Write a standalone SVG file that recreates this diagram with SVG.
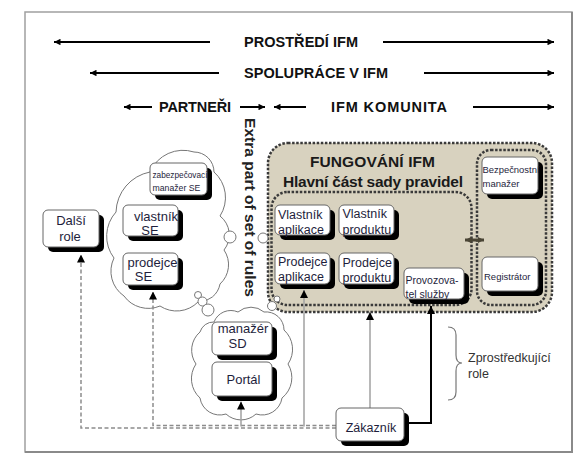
<svg xmlns="http://www.w3.org/2000/svg" width="586" height="461" viewBox="0 0 586 461">
<defs>
<marker id="ah" viewBox="0 0 10 10" refX="10" refY="5" markerWidth="8" markerHeight="8" markerUnits="userSpaceOnUse" orient="auto-start-reverse"><path d="M0,0 L10,5 L0,10 z" fill="#000"/></marker>
<marker id="th" viewBox="0 0 10 10" refX="10" refY="5" markerWidth="7" markerHeight="6.5" markerUnits="userSpaceOnUse" orient="auto-start-reverse"><path d="M0,0 L10,5 L0,10 z" fill="#000"/></marker>
<marker id="dh" viewBox="0 0 10 10" refX="10" refY="5" markerWidth="6.5" markerHeight="10" markerUnits="userSpaceOnUse" orient="auto-start-reverse"><path d="M0,0 L10,5 L0,10 z" fill="#4a4535"/></marker>
</defs>
<style>
text{font-family:"Liberation Sans",Arial,sans-serif}
.title{font-weight:bold;font-size:14.5px;fill:#111}
.sub{font-weight:bold;font-size:15.5px;fill:#1a1a1a}
.bx{fill:#fff;stroke:#666;stroke-width:1}
.sh{fill:#000}
.lbl{font-size:12.5px;fill:#1e1e3c}
.lb2{font-size:13px;fill:#1e1e3c}
.sm{font-size:9.5px;fill:#1e1e3c}
.cloud{fill:#fff;stroke:#777;stroke-width:1}
.dot{fill:none;stroke:#3a3a3a;stroke-width:2.5;stroke-dasharray:2.5 1.6}
.tan{fill:#d8d2bf}
.dash{fill:none;stroke:#8c8c8c;stroke-width:1.5;stroke-dasharray:4 2.5}
.gray{fill:none;stroke:#a0a0a0;stroke-width:1.5}
.blk{fill:none;stroke:#000;stroke-width:2}
.tarrow{stroke:#000;stroke-width:2;fill:none}
</style>

<rect x="25" y="12" width="547" height="440" fill="#fff" stroke="#a0a0a0" stroke-width="1.5"/>
<path d="M572,12 V452 H25" fill="none" stroke="#8a8a8a" stroke-width="2"/>

<g id="scope-arrows">
<line class="tarrow" x1="210" y1="42" x2="54" y2="42" marker-end="url(#th)"/>
<line class="tarrow" x1="383" y1="42" x2="554" y2="42" marker-end="url(#th)"/>
<line class="tarrow" x1="219" y1="73" x2="90" y2="73" marker-end="url(#th)"/>
<line class="tarrow" x1="424" y1="73" x2="554" y2="73" marker-end="url(#th)"/>
<line class="tarrow" x1="152" y1="107" x2="124" y2="107" marker-end="url(#th)"/>
<line class="tarrow" x1="240" y1="107" x2="265" y2="107" marker-end="url(#th)"/>
<line class="tarrow" x1="306" y1="107" x2="274" y2="107" marker-end="url(#th)"/>
<line class="tarrow" x1="473" y1="107" x2="554" y2="107" marker-end="url(#th)"/>
</g>
<g id="scope-labels">
<text class="title" x="301" y="47" text-anchor="middle" textLength="114">PROSTŘEDÍ IFM</text>
<text class="title" x="316" y="77.5" text-anchor="middle" textLength="144">SPOLUPRÁCE V IFM</text>
<text class="title" x="195" y="112" text-anchor="middle" textLength="72">PARTNEŘI</text>
<text class="title" x="389" y="112" text-anchor="middle" textLength="116">IFM KOMUNITA</text>
</g>

<g id="fungovani-ifm">
<rect x="268" y="143" width="284" height="169" rx="20" class="tan"/>
<rect x="268" y="143" width="284" height="169" rx="20" class="dot"/>
<text class="sub" x="372.5" y="167.3" text-anchor="middle" textLength="125">FUNGOVÁNÍ IFM</text>
<text class="sub" x="373" y="187.3" text-anchor="middle" textLength="180">Hlavní část sady pravidel</text>
</g>
<g id="hlavni-cast">
<rect x="271.5" y="192" width="200" height="113" rx="16" class="dot"/>
</g>
<g id="bezpecnost-group">
<rect x="477" y="150" width="69" height="155" rx="14" class="dot"/>
</g>

<g id="cloud-se">
<path class="cloud" d="M150,172 A36,36 0 0 1 194,152 A20,20 0 0 1 214,172 A34,34 0 0 1 220,216 A24,24 0 0 1 224,250 A26,26 0 0 1 220,284 A22,22 0 0 1 198,302 A30,30 0 0 1 160,306 A30,30 0 0 1 124,296 A30,30 0 0 1 114,258 A36,36 0 0 1 116,212 A42,42 0 0 1 150,172 Z"/>
</g>
<g id="cloud-sd">
<path class="cloud" d="M214,322 A18,18 0 0 1 238,312 A20,20 0 0 1 264,312 A18,18 0 0 1 284,330 A26,26 0 0 1 288,364 A26,26 0 0 1 282,398 A20,20 0 0 1 256,414 A22,22 0 0 1 226,414 A20,20 0 0 1 200,398 A26,26 0 0 1 196,364 A24,24 0 0 1 200,332 A14,14 0 0 1 214,322 Z"/>
</g>
<g id="bubbles">
<circle class="cloud" cx="198" cy="295" r="3.5"/>
<circle class="cloud" cx="202.5" cy="301.5" r="4.5"/>
<circle class="cloud" cx="208" cy="310" r="6"/>
<circle class="cloud" cx="230" cy="237" r="6"/>
<circle class="cloud" cx="263" cy="238" r="5"/>
<circle class="cloud" cx="272" cy="306" r="4.5"/>
<circle class="cloud" cx="277" cy="299" r="3"/>
</g>

<g id="connectors">
<path class="dash" d="M336,428 H81 V254.5" marker-end="url(#ah)"/>
<path class="dash" d="M336,425.5 H153 V291.5" marker-end="url(#ah)"/>
<path class="gray" d="M241,426.5 V401.5" marker-end="url(#ah)"/>
<path class="gray" d="M304,426.5 V290" marker-end="url(#ah)"/>
<path class="gray" d="M370,408 V312" marker-end="url(#ah)"/>
<path class="blk" d="M404,423 H431 V306" marker-end="url(#ah)"/>
<line x1="465" y1="240" x2="484" y2="240" stroke="#4a4535" stroke-width="3" marker-start="url(#dh)" marker-end="url(#dh)"/>
<path d="M448,327 Q456,327 456,335 V355 Q456,363 462,363 Q456,363 456,371 V392 Q456,400 448,400" fill="none" stroke="#777" stroke-width="1.2"/>
</g>

<g id="dalsi-role">
<rect class="sh" x="48" y="215" width="56" height="37" rx="5"/>
<rect class="bx" x="43" y="210" width="56" height="37" rx="5"/>
<text class="lb2" x="71" y="224.5" text-anchor="middle">Další</text>
<text class="lb2" x="70" y="241" text-anchor="middle">role</text>
</g>
<g id="zabezpecovaci-manazer-se">
<rect class="sh" x="155" y="168" width="57" height="32" rx="5"/>
<rect class="bx" x="150" y="163" width="57" height="32" rx="5"/>
<text style="font-size:8.7px;fill:#1e1e3c" x="152.5" y="178" textLength="55" lengthAdjust="spacingAndGlyphs">zabezpečovací</text>
<text style="font-size:8.7px;fill:#1e1e3c" x="152.5" y="191">manažer SE</text>
</g>
<g id="vlastnik-se">
<rect class="sh" x="128" y="210" width="55" height="31" rx="5"/>
<rect class="bx" x="123" y="205" width="55" height="31" rx="5"/>
<text class="lb2" x="156" y="221" text-anchor="middle">vlastník</text>
<text class="lb2" x="150" y="235" text-anchor="middle">SE</text>
</g>
<g id="prodejce-se">
<rect class="sh" x="128" y="258" width="55" height="32" rx="5"/>
<rect class="bx" x="123" y="253" width="55" height="32" rx="5"/>
<text class="lb2" x="152.5" y="267" text-anchor="middle">prodejce</text>
<text class="lb2" x="143.5" y="281" text-anchor="middle">SE</text>
</g>
<g id="manazer-sd">
<rect class="sh" x="217" y="327" width="60" height="33" rx="5"/>
<rect class="bx" x="212" y="322" width="60" height="33" rx="5"/>
<text class="lb2" x="243" y="333" text-anchor="middle">manažér</text>
<text class="lb2" x="237.5" y="348" text-anchor="middle">SD</text>
</g>
<g id="portal">
<rect class="sh" x="217" y="367" width="60" height="34" rx="5"/>
<rect class="bx" x="212" y="362" width="60" height="34" rx="5"/>
<text class="lb2" x="243.5" y="384" text-anchor="middle">Portál</text>
</g>
<g id="vlastnik-aplikace">
<rect class="sh" x="280" y="210" width="55" height="30" rx="5"/>
<rect class="bx" x="275" y="205" width="55" height="30" rx="5"/>
<text class="lbl" x="278" y="219">Vlastník</text>
<text class="lbl" x="278" y="234">aplikace</text>
</g>
<g id="vlastnik-produktu">
<rect class="sh" x="344" y="210" width="55" height="30" rx="5"/>
<rect class="bx" x="339" y="205" width="55" height="30" rx="5"/>
<text class="lbl" x="342.5" y="218">Vlastník</text>
<text class="lbl" x="342.5" y="233.5">produktu</text>
</g>
<g id="prodejce-aplikace">
<rect class="sh" x="280" y="258" width="55" height="31" rx="5"/>
<rect class="bx" x="275" y="253" width="55" height="31" rx="5"/>
<text class="lbl" x="278" y="266">Prodejce</text>
<text class="lbl" x="278" y="281">aplikace</text>
</g>
<g id="prodejce-produktu">
<rect class="sh" x="344" y="258" width="55" height="31" rx="5"/>
<rect class="bx" x="339" y="253" width="55" height="31" rx="5"/>
<text class="lbl" x="342.5" y="267">Prodejce</text>
<text class="lbl" x="342.5" y="282">produktu</text>
</g>
<g id="provozovatel-sluzby">
<rect class="sh" x="409" y="273" width="60" height="31" rx="5"/>
<rect class="bx" x="404" y="268" width="60" height="31" rx="5"/>
<text style="font-size:10.5px;fill:#1e1e3c" x="405.5" y="284">Provozova-</text>
<text style="font-size:10.5px;fill:#1e1e3c" x="405.5" y="298">tel služby</text>
</g>
<g id="bezpecnostni-manazer">
<rect class="sh" x="487" y="162" width="56" height="37" rx="5"/>
<rect class="bx" x="482" y="157" width="56" height="37" rx="5"/>
<text class="sm" x="482.5" y="173" textLength="57" lengthAdjust="spacingAndGlyphs">Bezpečnostní</text>
<text class="sm" x="482.5" y="186.5">manažer</text>
</g>
<g id="registrator">
<rect class="sh" x="487" y="262" width="56" height="34" rx="5"/>
<rect class="bx" x="482" y="257" width="56" height="34" rx="5"/>
<text class="sm" x="484" y="280">Registrátor</text>
</g>
<g id="zakaznik">
<rect class="sh" x="341" y="413" width="68" height="33" rx="5"/>
<rect class="bx" x="336" y="408" width="68" height="33" rx="5"/>
<text class="lbl" x="371" y="432" text-anchor="middle">Zákazník</text>
</g>

<g id="zprostredkujici-role">
<text style="font-size:12.5px;fill:#333" x="468" y="362">Zprostředkující</text>
<text style="font-size:12.5px;fill:#333" x="468" y="377.5">role</text>
</g>

<g id="extra-part">
<text transform="translate(245,118) rotate(90)" style="font-weight:bold;font-size:14.5px;fill:#222" textLength="179" lengthAdjust="spacingAndGlyphs">Extra part of set of rules</text>
</g>
</svg>
